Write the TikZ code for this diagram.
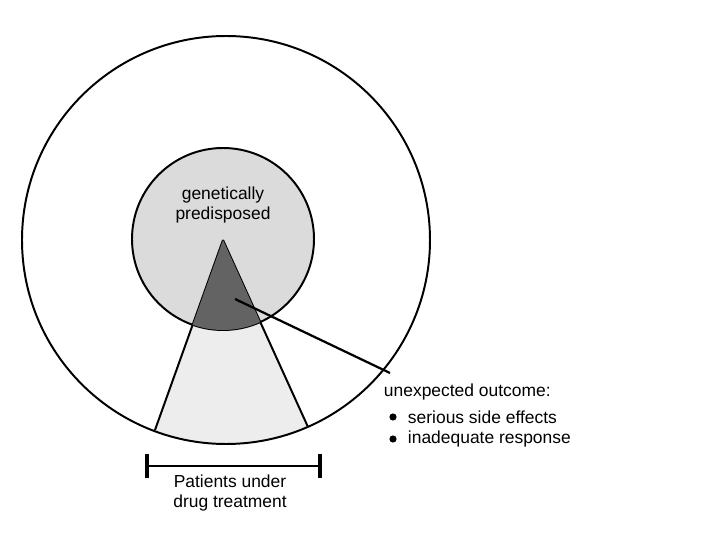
\documentclass[tikz,border=0pt]{standalone}
\usepackage{fontspec}
\setmainfont{Liberation Sans}
\usetikzlibrary{calc}
\definecolor{innerfill}{gray}{0.86}
\definecolor{wedgefill}{gray}{0.93}
\definecolor{darkwedge}{gray}{0.39}
\begin{document}
\begin{tikzpicture}[line width=1.4pt, font=\fontsize{12.4}{14.2}\selectfont,
    label/.style={inner sep=0pt, anchor=west}]
    \useasboundingbox (0,0) rectangle (18,13.5);

    \coordinate (outer) at (5.65,7.5);
    \coordinate (inner) at (5.575,7.525);
    \coordinate (apex) at (5.575,7.5);
    \coordinate (wleft) at (3.875,2.75);
    \coordinate (wright) at (7.7,2.825);

    % lower part of the wedge
    \begin{scope}
    \clip (outer) circle (5.1);
    \fill [wedgefill] (apex) -- ($(apex)!1.3!(wleft)$) -- ($(apex)!1.3!(wright)$) -- cycle;
    \end{scope}

    \filldraw [fill=innerfill] (inner) circle (2.275);
    \draw (apex) -- (wleft);
    \draw (apex) -- (wright);

    % dark part inside the small circle
    \begin{scope}
    \clip (inner) circle (2.275);
    \fill [darkwedge] (apex) -- ($(apex)!1.3!(wleft)$) -- ($(apex)!1.3!(wright)$) -- cycle;
    \end{scope}

    \draw (outer) circle (5.1);

    \node [align=center, inner sep=0pt] (gene) at (5.575,8.375) {genetically\\predisposed};

    % pointer to the outcome
    \coordinate (hit) at (5.875,6.025);
    \coordinate (tip) at (9.75,4.175);
    \draw [line width=1.6pt] (hit) -- (tip);

    \node [label] (outcome) at (9.575,3.7) {unexpected outcome:};
    \node [label] (serious) at (10.175,3.075) {serious side effects};
    \node [label] (inadequate) at (10.175,2.525) {inadequate response};
    \fill (9.825,3.075) circle (0.09);
    \fill (9.825,2.525) circle (0.09);

    % bracket under the wedge
    \coordinate (bleft) at (3.675,1.85);
    \coordinate (bright) at (8.0,1.85);
    \draw [line width=1.6pt] (bleft) -- (bright);
    \draw [line width=2.2pt] ($(bleft)+(0,0.3)$) -- ($(bleft)-(0,0.3)$);
    \draw [line width=2.2pt] ($(bright)+(0,0.3)$) -- ($(bright)-(0,0.3)$);

    \node [align=center, inner sep=0pt] (patients) at (5.75,1.175) {Patients under\\drug treatment};
\end{tikzpicture}
\end{document}
